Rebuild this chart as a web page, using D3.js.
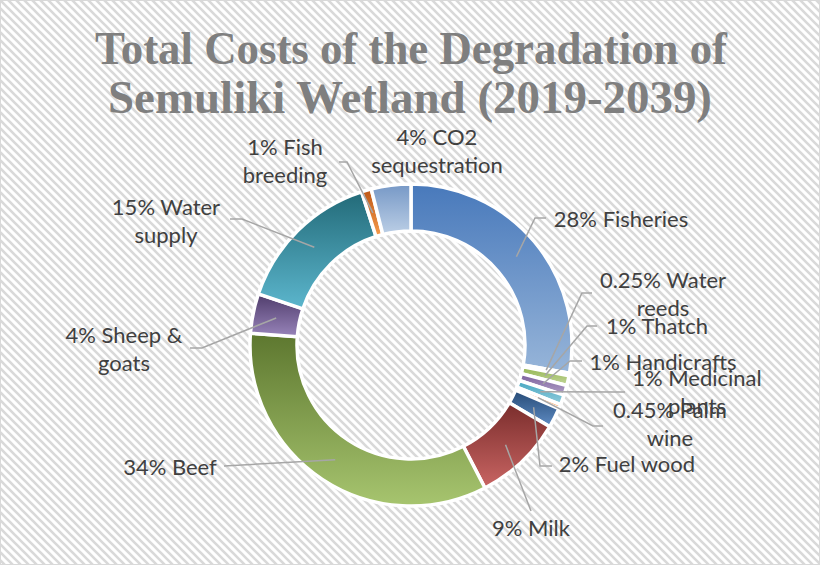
<!DOCTYPE html>
<html>
<head>
<meta charset="utf-8">
<script src="https://cdn.jsdelivr.net/npm/d3@7/dist/d3.min.js"></script>
<style>
  html, body { margin: 0; padding: 0; background: #fff; }
  svg { display: block; }
</style>
</head>
<body>
<svg id="chart" width="820" height="565"></svg>
<script>
// ---- data ----
const categories = ["Fisheries", "Water reeds", "Thatch", "Handicrafts", "Medicinal plants",
  "Palm wine", "Fuel wood", "Milk", "Beef", "Sheep & goats", "Water supply",
  "Fish breeding", "CO2 sequestration"];
const shares = [28, 0.25, 1, 1, 1, 0.45, 2, 9, 34, 4, 15, 1, 4];
const titleLines = ["Total Costs of the Degradation of", "Semuliki Wetland (2019-2039)"];

// ---- styling: gradient (top shade -> bottom tint) per slice ----
const shadeTop = ["#4879bb", "#b04a47", "#93b550", "#7a5e9c", "#45a6c0", "#f08c3c",
  "#264a75", "#7a2d2c", "#5d772f", "#4f3c6b", "#226a78", "#bd5716", "#7698c6"];
const tintBottom = ["#97b5d9", "#d99694", "#c3d69b", "#b3a2c7", "#93cddd", "#fac090",
  "#5f8cc4", "#c96563", "#a7c56f", "#9884ba", "#5cb6cd", "#f69b4b", "#bccfe6"];

// ---- layout: label centres, baselines, line breaks and leader starts ----
// words: number of words (after the percentage) kept on the first line
const labelLayout = [
  { cx: 621, y: 227, words: 9, lead: [546, 218], knee: [535, 218] },
  { cx: 663, y: 288, words: 1, lead: [592, 293], knee: [582, 293] },
  { cx: 657, y: 334, words: 9, lead: [597, 326], knee: [587, 326] },
  { cx: 663, y: 370, words: 9, lead: [582, 361], knee: [570, 361] },
  { cx: 697, y: 386, words: 1, lead: [625, 392], knee: [615, 392] },
  { cx: 670, y: 418, words: 1, lead: [603, 426], knee: [593, 426] },
  { cx: 627, y: 472, words: 9, lead: [552, 466], knee: [540, 466] },
  { cx: 531, y: 536, words: 9, lead: [531, 511], knee: [531, 511] },
  { cx: 170, y: 475, words: 9, lead: [224, 466], knee: [224, 466] },
  { cx: 124, y: 343, words: 2, lead: [190, 348], knee: [202, 348] },
  { cx: 166, y: 215, words: 1, lead: [230, 219], knee: [242, 219] },
  { cx: 285, y: 155, words: 1, lead: [339, 162], knee: [347, 162] },
  { cx: 437, y: 145, words: 1, lead: null, knee: null }
];

const W = 820, H = 565;
const cx = 411, cy = 345, outerR = 161, innerR = 114;
const lineGap = 27.5;

const svg = d3.select("#chart");
const defs = svg.append("defs");

// Wide downward-diagonal hatch for the chart area
const pat = defs.append("pattern")
  .attr("id", "hatch").attr("patternUnits", "userSpaceOnUse")
  .attr("width", 8).attr("height", 8);
pat.append("rect").attr("width", 8).attr("height", 8).attr("fill", "#ffffff");
pat.append("path")
  .attr("d", "M-2,-2 L10,10 M-2,6 L2,10 M6,-2 L10,2")
  .attr("stroke", "#d9d9d9").attr("stroke-width", 2.6).attr("fill", "none");

svg.append("rect")
  .attr("x", 0.5).attr("y", 0.5).attr("width", W - 1).attr("height", H - 1)
  .attr("fill", "url(#hatch)").attr("stroke", "#d9d9d9").attr("stroke-width", 1);

// Per-slice vertical gradients
categories.forEach((c, i) => {
  const g = defs.append("linearGradient")
    .attr("id", "grad" + i).attr("x1", 0).attr("y1", 0).attr("x2", 0).attr("y2", 1);
  g.append("stop").attr("offset", "0%").attr("stop-color", shadeTop[i]);
  g.append("stop").attr("offset", "100%").attr("stop-color", tintBottom[i]);
});

// Title
const title = svg.append("g")
  .attr("font-family", "'Liberation Serif', 'DejaVu Serif', serif")
  .attr("font-weight", "bold").attr("font-size", 46).attr("fill", "#7f7f7f")
  .attr("text-anchor", "middle");
const titleSpec = [{ y: 64, len: 632, x: 411 }, { y: 113, len: 604, x: 410 }];
titleLines.forEach((t, i) => {
  title.append("text")
    .attr("x", titleSpec[i].x).attr("y", titleSpec[i].y)
    .attr("textLength", titleSpec[i].len).attr("lengthAdjust", "spacingAndGlyphs")
    .text(t);
});

// Donut
const pie = d3.pie().sort(null).value(d => d).startAngle(0).endAngle(2 * Math.PI);
const arcs = pie(shares);
const arc = d3.arc().innerRadius(innerR).outerRadius(outerR);

const ring = svg.append("g").attr("transform", `translate(${cx},${cy})`);
ring.selectAll("path.slice")
  .data(arcs)
  .join("path")
  .attr("class", "slice")
  .attr("d", arc)
  .attr("fill", (d, i) => `url(#grad${i})`)
  .attr("stroke", "#ffffff")
  .attr("stroke-width", 3.5)
  .attr("stroke-linejoin", "miter");

// Leader lines: label side -> knee -> slice centroid
const leaders = svg.append("g")
  .attr("fill", "none").attr("stroke", "#a6a6a6").attr("stroke-width", 1.5);
arcs.forEach((d, i) => {
  const L = labelLayout[i];
  if (!L.lead) return;
  const c = arc.centroid(d);
  const end = [cx + c[0], cy + c[1]];
  leaders.append("path")
    .attr("d", d3.line()([L.lead, L.knee, end]));
});

// Data labels
const labels = svg.append("g")
  .attr("font-family", "Lato, 'Open Sans', sans-serif")
  .attr("font-size", 22).attr("fill", "#404040")
  .attr("text-anchor", "middle");
arcs.forEach((d, i) => {
  const L = labelLayout[i];
  const words = (d.data + "% " + categories[i]).split(" ");
  const first = words.slice(0, L.words + 1).join(" ");
  const rest = words.slice(L.words + 1).join(" ");
  const t = labels.append("text").attr("x", L.cx).attr("y", L.y);
  t.append("tspan").attr("x", L.cx).attr("y", L.y).text(first);
  if (rest) t.append("tspan").attr("x", L.cx).attr("y", L.y + lineGap).text(rest);
});
</script>
</body>
</html>
